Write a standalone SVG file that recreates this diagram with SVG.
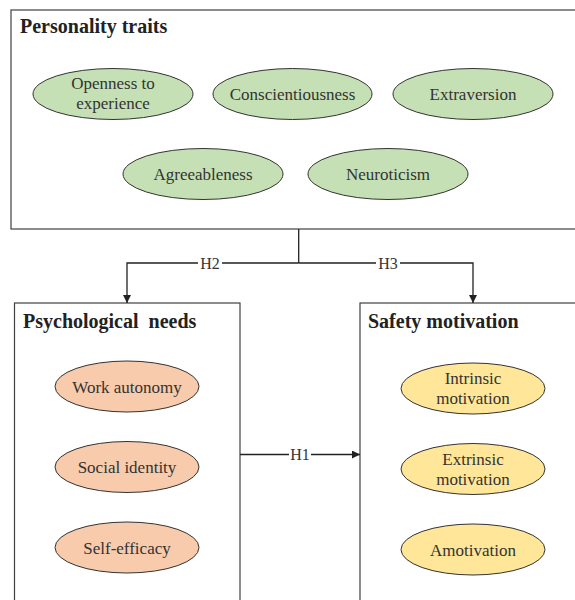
<svg xmlns="http://www.w3.org/2000/svg" width="575" height="600" viewBox="0 0 575 600">
  <style>
    .box { fill: #ffffff; stroke: #404040; stroke-width: 1.2; }
    .title { font-family: "Liberation Serif", "Times New Roman", serif; font-weight: bold; font-size: 20px; fill: #222222; }
    .lbl { font-family: "Liberation Serif", "Times New Roman", serif; font-size: 17px; fill: #333333; text-anchor: middle; }
    .ell { stroke: #333333; stroke-width: 1; }
    .green { fill: #c5e0b4; }
    .orange { fill: #f8cbad; }
    .yellow { fill: #ffe699; }
    .conn { fill: none; stroke: #222222; stroke-width: 1.3; }
    .hl { font-family: "Liberation Serif", "Times New Roman", serif; font-size: 16px; fill: #333333; text-anchor: middle; }
    .bg { fill: #ffffff; stroke: none; }
  </style>
  <defs>
    <marker id="arr" viewBox="0 0 10 10" refX="10" refY="5" markerWidth="8" markerHeight="8" markerUnits="userSpaceOnUse" orient="auto">
      <path d="M0,0 L10,5 L0,10 Z" fill="#222222"/>
    </marker>
  </defs>

  <g id="personality-traits">
    <rect class="box" x="11" y="10" width="580" height="219"/>
    <text class="title" x="20" y="33">Personality traits</text>
    <g id="openness">
      <ellipse class="ell green" cx="113" cy="94" rx="80" ry="25.5"/>
      <text class="lbl" x="113" y="89">Openness to</text>
      <text class="lbl" x="113" y="109">experience</text>
    </g>
    <g id="conscientiousness">
      <ellipse class="ell green" cx="292.5" cy="94" rx="79.5" ry="25.5"/>
      <text class="lbl" x="292.5" y="100">Conscientiousness</text>
    </g>
    <g id="extraversion">
      <ellipse class="ell green" cx="473" cy="94" rx="80" ry="25.5"/>
      <text class="lbl" x="473" y="100">Extraversion</text>
    </g>
    <g id="agreeableness">
      <ellipse class="ell green" cx="203" cy="174" rx="80" ry="25.5"/>
      <text class="lbl" x="203" y="180">Agreeableness</text>
    </g>
    <g id="neuroticism">
      <ellipse class="ell green" cx="388" cy="174" rx="80" ry="25.5"/>
      <text class="lbl" x="388" y="180">Neuroticism</text>
    </g>
  </g>

  <g id="psychological-needs">
    <rect class="box" x="14.5" y="303" width="225.5" height="310"/>
    <text class="title" x="23" y="328" xml:space="preserve">Psychological  needs</text>
    <g id="work-autonomy">
      <ellipse class="ell orange" cx="127" cy="386.5" rx="72" ry="25.5"/>
      <text class="lbl" x="127" y="392.5">Work autonomy</text>
    </g>
    <g id="social-identity">
      <ellipse class="ell orange" cx="127" cy="467" rx="72" ry="25.5"/>
      <text class="lbl" x="127" y="473">Social identity</text>
    </g>
    <g id="self-efficacy">
      <ellipse class="ell orange" cx="127" cy="547.5" rx="72" ry="25.5"/>
      <text class="lbl" x="127" y="553.5">Self-efficacy</text>
    </g>
  </g>

  <g id="safety-motivation">
    <rect class="box" x="360" y="303" width="240" height="310"/>
    <text class="title" x="368" y="328">Safety motivation</text>
    <g id="intrinsic">
      <ellipse class="ell yellow" cx="473" cy="388.5" rx="72" ry="25.5"/>
      <text class="lbl" x="473" y="384">Intrinsic</text>
      <text class="lbl" x="473" y="404">motivation</text>
    </g>
    <g id="extrinsic">
      <ellipse class="ell yellow" cx="473" cy="469" rx="72" ry="25.5"/>
      <text class="lbl" x="473" y="464.5">Extrinsic</text>
      <text class="lbl" x="473" y="484.5">motivation</text>
    </g>
    <g id="amotivation">
      <ellipse class="ell yellow" cx="473" cy="549.5" rx="72" ry="25.5"/>
      <text class="lbl" x="473" y="555.5">Amotivation</text>
    </g>
  </g>

  <g id="connectors">
    <path class="conn" d="M298.7,229 V263"/>
    <path class="conn" d="M298.7,263 H127 V303" marker-end="url(#arr)"/>
    <path class="conn" d="M298.7,263 H473 V303" marker-end="url(#arr)"/>
    <path class="conn" d="M240,454.5 H360" marker-end="url(#arr)"/>
    <rect class="bg" x="198" y="255" width="24" height="16"/>
    <text class="hl" x="210" y="269">H2</text>
    <rect class="bg" x="376" y="255" width="24" height="16"/>
    <text class="hl" x="388" y="269">H3</text>
    <rect class="bg" x="289" y="446" width="22" height="16"/>
    <text class="hl" x="300" y="460">H1</text>
  </g>
</svg>
